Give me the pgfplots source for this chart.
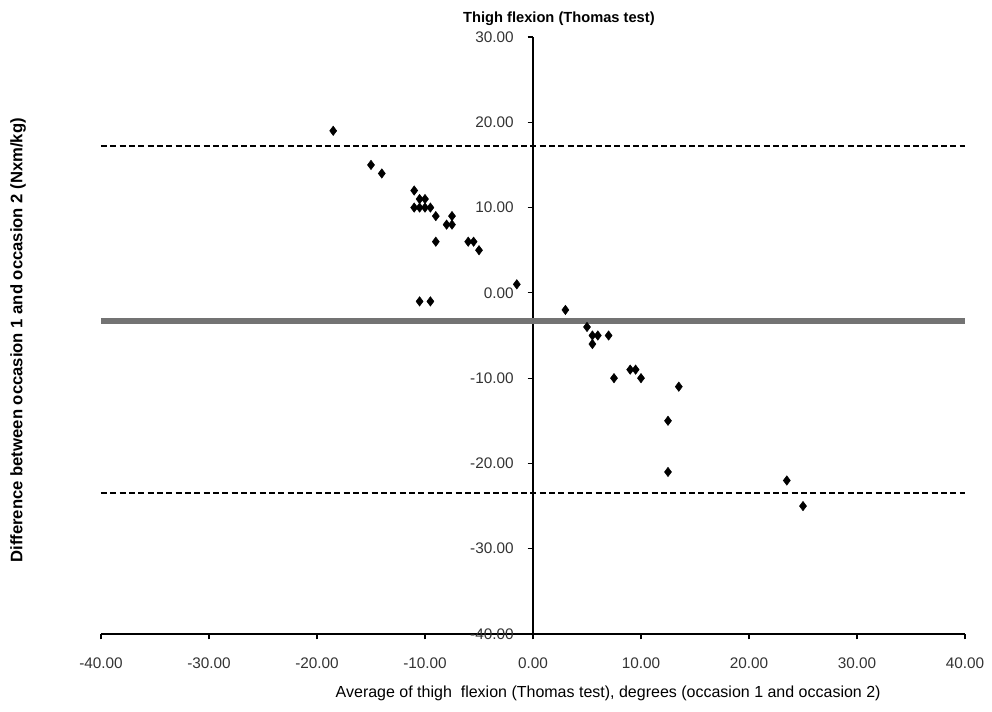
\documentclass[border=0pt]{standalone}
\usepackage{pgfplots}
\pgfplotsset{compat=1.18}
\usepackage{fontspec}
\setmainfont{Liberation Sans}

\begin{document}
\begin{tikzpicture}
\useasboundingbox (-75.75pt,-57.75pt) rectangle (668.25pt,475.5pt);
\begin{axis}[
  at={(0,0)}, anchor=south west,
  scale only axis, width=648pt, height=447.75pt,
  xmin=-40, xmax=40, ymin=-40, ymax=30,
  clip mode=individual,
  axis x line*=bottom, axis y line*=center,
  hide obscured y ticks=false, hide obscured x ticks=false,
  axis line style={line width=0.9pt},
  xtick={-40,-30,...,40}, ytick={-40,-30,...,30},
  tick align=outside, major tick length=4pt,
  tick style={line width=0.9pt, black},
  /pgf/number format/.cd, fixed, fixed zerofill, precision=2, assume math mode=true,
  /pgfplots/.cd,
  tick label style={font=\fontsize{11.5}{13}\selectfont, text=black!80},
  yticklabel style={xshift=-7pt},
  xticklabel style={yshift=-10.5pt},
  xlabel={Average of thigh\ \ flexion (Thomas test), degrees (occasion 1 and occasion 2)},
  xlabel style={at={(axis description cs:0.587,-0.099)}, anchor=center,
    font=\fontsize{12}{14}\selectfont},
  ylabel={Difference between occasion 1 and occasion 2 (Nxm/kg)},
  ylabel style={at={(axis description cs:-0.096,0.492)}, anchor=center, rotate=0,
    font=\bfseries\fontsize{12.5}{14}\selectfont},
]
% limits of agreement and mean difference
\addplot[black, line width=1.5pt, dash pattern=on 4.5pt off 2.5pt] coordinates {(-40,17.2) (40,17.2)};
\addplot[black, line width=1.5pt, dash pattern=on 4.5pt off 2.5pt] coordinates {(-40,-23.5) (40,-23.5)};
\addplot[black!55, line width=3.8pt] coordinates {(-40,-3.3) (40,-3.3)};
% individual differences
\addplot[only marks, mark=diamond*, mark size=3.5pt, black] coordinates {
(-18.5,19) (-15,15) (-14,14) (-11,12)
(-11,10) (-10.5,10) (-10,10) (-9.5,10) (-10.5,11) (-10,11)
(-9,9) (-8,8) (-7.5,8) (-7.5,9) (-9,6) (-6,6) (-5.5,6) (-5,5)
(-1.5,1) (-10.5,-1) (-9.5,-1)
(3,-2) (5,-4) (5.5,-5) (6,-5) (5.5,-6) (7,-5)
(7.5,-10) (9,-9) (9.5,-9) (10,-10) (13.5,-11)
(12.5,-15) (12.5,-21) (23.5,-22) (25,-25)
};
% chart title
\node[anchor=base, font=\bfseries\fontsize{11}{13}\selectfont, inner sep=0pt]
  at (axis description cs:0.53,1.0235) {Thigh flexion (Thomas test)};
\end{axis}
\end{tikzpicture}
\end{document}
